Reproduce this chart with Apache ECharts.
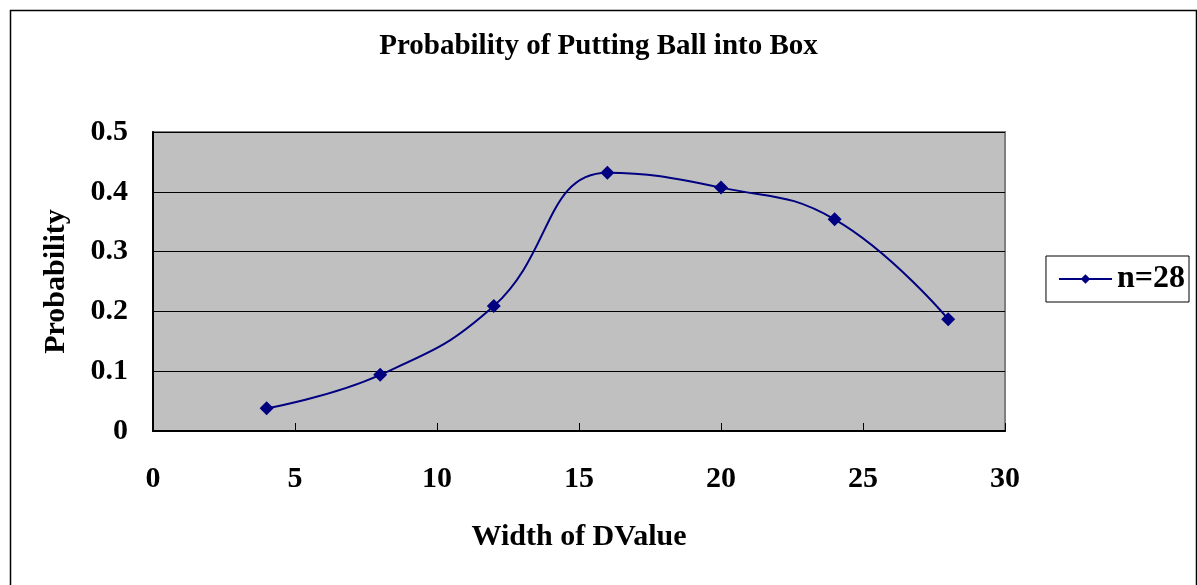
<!DOCTYPE html>
<html><head><meta charset="utf-8">
<script src="https://cdn.jsdelivr.net/npm/echarts@6/dist/echarts.min.js"></script>
<style>html,body{margin:0;padding:0;background:#fff}#c{width:1197px;height:585px}</style>
</head><body><div id="c"></div>
<script>
const xValues = [4, 8, 12, 16, 20, 24, 28];
const probabilities = [0.038, 0.094, 0.209, 0.432, 0.407, 0.354, 0.187];
const seriesName = 'n=28';
const titleText = 'Probability of Putting Ball into Box';
const xAxisName = 'Width of DValue';
const yAxisName = 'Probability';

const chart = echarts.init(document.getElementById('c'));
const font = '"Liberation Serif","Times New Roman",serif';
chart.setOption({
  animation: false,
  backgroundColor: '#fff',
  graphic: [{type:'rect', left: 8, top: 8, shape:{width:1186, height:620}, style:{fill:'none', stroke:'#000', lineWidth:1.5}, silent:true}],
  title: {text: titleText, left: 'center', top: 27, textStyle:{fontFamily: font, fontWeight:'bold', fontSize: 29, color:'#000'}},
  legend: {right: 8, top: 256, orient:'vertical', data:[seriesName], backgroundColor:'#fff', borderColor:'#000', borderWidth:1, padding:[7,4,7,12],
    itemWidth: 53, itemHeight: 12, itemGap: 4,
    textStyle:{fontFamily: font, fontWeight:'bold', fontSize: 32, color:'#000'}},
  grid: {left: 153, right: 192, top: 132, bottom: 154, show: true, backgroundColor:'#c0c0c0', borderColor:'#808080', borderWidth: 2},
  xAxis: {type:'value', min:0, max:30, interval:5, name: xAxisName, nameLocation:'middle', nameGap: 91,
    nameTextStyle:{fontFamily: font, fontWeight:'bold', fontSize: 30, color:'#000'},
    axisLine:{show:true, onZero:false, lineStyle:{color:'#000', width:2}},
    axisTick:{show:true, inside:true, length:8, lineStyle:{color:'#000', width:1}},
    axisLabel:{fontFamily: font, fontWeight:'bold', fontSize: 30, color:'#000', margin: 33},
    splitLine:{show:false}},
  yAxis: {type:'value', min:0, max:0.5, interval:0.1, name: yAxisName, nameLocation:'middle', nameGap: 82,
    nameTextStyle:{fontFamily: font, fontWeight:'bold', fontSize: 30, color:'#000'},
    axisLine:{show:true, lineStyle:{color:'#000', width:2}},
    axisTick:{show:true, inside:true, length:8, lineStyle:{color:'#000', width:1}},
    axisLabel:{fontFamily: font, fontWeight:'bold', fontSize: 30, color:'#000', margin: 25, formatter: v => v === 0 ? '0' : String(+v.toFixed(1))},
    splitLine:{show:true, lineStyle:{color:'#000', width:1}}},
  series: [{name: seriesName, type:'line', smooth: 0.45, data: xValues.map((x,i)=>[x, probabilities[i]]),
    symbol:'diamond', symbolSize: 14, lineStyle:{color:'#000080', width:2}, itemStyle:{color:'#000080'}}]
});
</script></body></html>
